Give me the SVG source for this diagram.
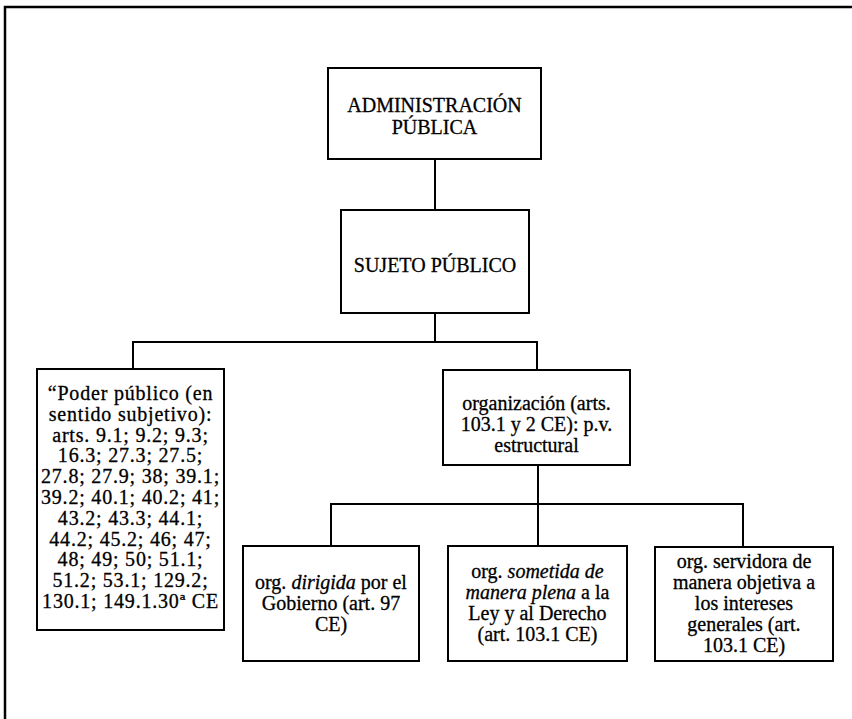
<svg xmlns="http://www.w3.org/2000/svg" width="852" height="719" viewBox="0 0 852 719">
<style>
.box{fill:#fff;stroke:#000;stroke-width:2}
.t{font-family:"Liberation Serif","Times New Roman",serif;font-size:20px;fill:#000;stroke:#000;stroke-width:0.3;text-anchor:middle}
.wide{letter-spacing:0.8px}
.c{fill:none;stroke:#000;stroke-width:2}
.i{font-style:italic}
</style>
<rect width="852" height="719" fill="#fff"/>
<path id="frame" d="M5,719 V7 H852" fill="none" stroke="#000" stroke-width="2.5"/>
<g id="connectors" class="c">
<path d="M435,159 V210"/>
<path d="M435,313 V342 M133,369 V342 H537 V370"/>
<path d="M538,465 V504 M331,546 V504 H743 V547 M538,504 V546"/>
</g>
<g id="administracion">
<rect class="box" x="328" y="68" width="213" height="91"/>
<text class="t" x="434.5" y="112">ADMINISTRACIÓN</text>
<text class="t" x="434.5" y="134">PÚBLICA</text>
</g>
<g id="sujeto">
<rect class="box" x="341" y="210" width="188" height="103"/>
<text class="t" x="435" y="272">SUJETO PÚBLICO</text>
</g>
<g id="poder">
<rect class="box" x="37" y="369" width="187" height="261"/>
<text class="t wide" x="130.5" y="400">“Poder público (en</text>
<text class="t wide" x="130.5" y="420.8">sentido subjetivo):</text>
<text class="t wide" x="130.5" y="441.6">arts. 9.1; 9.2; 9.3;</text>
<text class="t wide" x="130.5" y="462.4">16.3; 27.3; 27.5;</text>
<text class="t wide" x="130.5" y="483.2">27.8; 27.9; 38; 39.1;</text>
<text class="t wide" x="130.5" y="504">39.2; 40.1; 40.2; 41;</text>
<text class="t wide" x="130.5" y="524.8">43.2; 43.3; 44.1;</text>
<text class="t wide" x="130.5" y="545.6">44.2; 45.2; 46; 47;</text>
<text class="t wide" x="130.5" y="566.4">48; 49; 50; 51.1;</text>
<text class="t wide" x="130.5" y="587.2">51.2; 53.1; 129.2;</text>
<text class="t wide" x="130.5" y="608">130.1; 149.1.30ª CE</text>
</g>
<g id="organizacion">
<rect class="box" x="443" y="370" width="187" height="95"/>
<text class="t" x="536.5" y="410">organización (arts.</text>
<text class="t" x="536.5" y="431">103.1 y 2 CE): p.v.</text>
<text class="t" x="536.5" y="452">estructural</text>
</g>
<g id="dirigida">
<rect class="box" x="243" y="546" width="176" height="115"/>
<text class="t" x="331" y="589">org. <tspan class="i">dirigida</tspan> por el</text>
<text class="t" x="331" y="610">Gobierno (art. 97</text>
<text class="t" x="331" y="631">CE)</text>
</g>
<g id="sometida">
<rect class="box" x="448" y="546" width="179" height="115"/>
<text class="t" x="537.5" y="578">org. <tspan class="i">sometida de</tspan></text>
<text class="t" x="537.5" y="599"><tspan class="i">manera plena</tspan> a la</text>
<text class="t" x="537.5" y="620">Ley y al Derecho</text>
<text class="t" x="537.5" y="641">(art. 103.1 CE)</text>
</g>
<g id="servidora">
<rect class="box" x="655" y="547" width="178" height="114"/>
<text class="t" x="744" y="568">org. servidora de</text>
<text class="t" x="744" y="589">manera objetiva a</text>
<text class="t" x="744" y="610">los intereses</text>
<text class="t" x="744" y="631">generales (art.</text>
<text class="t" x="744" y="652">103.1 CE)</text>
</g>
</svg>
